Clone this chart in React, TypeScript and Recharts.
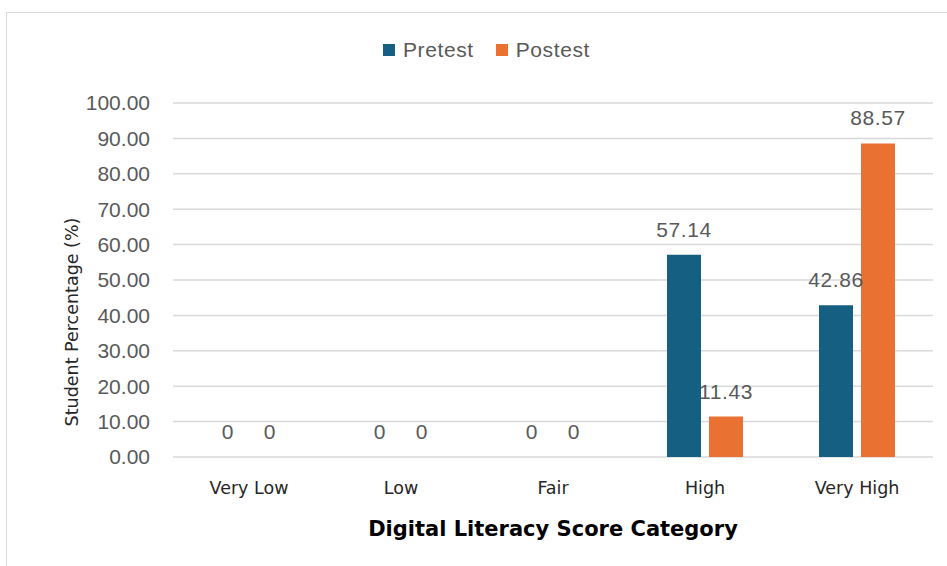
import { Bar, BarChart, CartesianGrid, LabelList, Legend, XAxis, YAxis } from "recharts";

const categories = ["Very Low", "Low", "Fair", "High", "Very High"];
const pretest = [0, 0, 0, 57.14, 42.86];
const postest = [0, 0, 0, 11.43, 88.57];
const yTicks = [0, 10, 20, 30, 40, 50, 60, 70, 80, 90, 100];
const seriesOrder = ["Pretest", "Postest"];

const PRE = "#156082";
const POST = "#E97132";
const GREY = "#595959";

const data = categories.map((name, i) => ({ name, pretest: pretest[i], postest: postest[i] }));

const fmt = (v: number) => (v === 0 ? "0" : Number(v).toFixed(2));

function LegendBox({ payload }: any) {
  const items = [...(payload || [])].sort((a: any, b: any) => seriesOrder.indexOf(a.value) - seriesOrder.indexOf(b.value));
  return (
    <div style={{ display: "flex", alignItems: "center", paddingLeft: 383 }}>
      {items.map((p: any, i: number) => (
        <div key={i} style={{ display: "flex", alignItems: "center", marginRight: 22 }}>
          <span style={{ width: 12, height: 12, background: p.color, display: "inline-block", marginRight: 8 }} />
          <span style={{ fontFamily: "Liberation Sans", fontSize: 21, color: GREY, letterSpacing: 0.6 }}>{p.value}</span>
        </div>
      ))}
    </div>
  );
}

function YTitle({ viewBox }: any) {
  const x = viewBox.x + 72;
  const y = viewBox.y + viewBox.height / 2 + 42;
  return (
    <text
      x={x}
      y={y}
      transform={`rotate(-90 ${x} ${y})`}
      textAnchor="middle"
      dominantBaseline="central"
      fontFamily="DejaVu Sans"
      fontSize={17.5}
      fill="#262626"
    >
      Student Percentage (%)
    </text>
  );
}

// draws the value above a bar, also when the bar has (almost) zero height
function ValueLabel(props: any) {
  const { x, y, width, height, value } = props;
  if (value === undefined || value === null) return null;
  const top = Math.min(Number(y), Number(y) + Number(height || 0));
  return (
    <text
      x={Number(x) + Number(width) / 2}
      y={top - 18}
      textAnchor="middle"
      fontFamily="Liberation Sans"
      fontSize={21}
      fill={GREY}
      letterSpacing={0.6}
    >
      {fmt(Number(value))}
    </text>
  );
}

export default function App() {
  return (
    <div style={{ position: "absolute", left: 0, top: 0, width: 947, height: 566, background: "#fff", overflow: "hidden" }}>
      <div style={{ position: "absolute", left: 6, top: 12, width: 980, height: 600, borderLeft: "1.5px solid #d9d9d9", borderTop: "1.5px solid #d9d9d9" }} />
      <BarChart
        width={947}
        height={566}
        data={data}
        margin={{ top: 103, right: 14, left: 0, bottom: 0 }}
        barGap={8}
        barSize={34}
        style={{ position: "absolute", left: 0, top: 0 }}
      >
        <CartesianGrid vertical={false} stroke="#d9d9d9" strokeWidth={1.5} />
        <XAxis
          dataKey="name"
          height={109}
          axisLine={false}
          tickLine={false}
          tickSize={0}
          tickMargin={25}
          tick={{ fontFamily: "DejaVu Sans", fontSize: 17.5, fill: "#262626" }}
          label={{
            value: "Digital Literacy Score Category",
            position: "insideBottom",
            offset: 30,
            style: { fontFamily: "DejaVu Sans", fontSize: 21, fontWeight: "bold", fill: "#000" },
          }}
        />
        <YAxis
          width={173}
          domain={[0, 100]}
          ticks={yTicks}
          interval={0}
          axisLine={false}
          tickLine={false}
          tickSize={0}
          tickMargin={23}
          tickFormatter={(v) => Number(v).toFixed(2)}
          tick={{ fontFamily: "Liberation Sans", fontSize: 21, fill: GREY }}
          label={<YTitle />}
        />
        <Legend
          layout="horizontal"
          verticalAlign="middle"
          align="center"
          content={<LegendBox />}
          wrapperStyle={{ top: 38, left: 0, width: 947 }}
        />
        <Bar dataKey="pretest" name="Pretest" fill={PRE} minPointSize={0.01} isAnimationActive={false}>
          <LabelList dataKey="pretest" content={ValueLabel} />
        </Bar>
        <Bar dataKey="postest" name="Postest" fill={POST} minPointSize={0.01} isAnimationActive={false}>
          <LabelList dataKey="postest" content={ValueLabel} />
        </Bar>
      </BarChart>
    </div>
  );
}
